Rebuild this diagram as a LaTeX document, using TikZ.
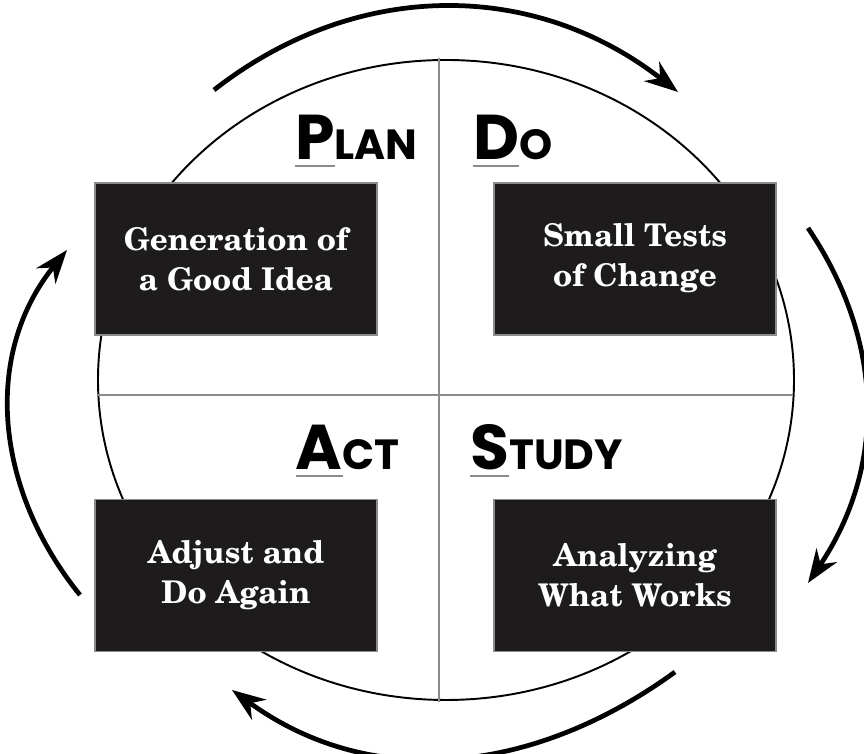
\documentclass[tikz,border=0pt]{standalone}
\usepackage[T1]{fontenc}
\usepackage{fontspec}
\newfontfamily\headfont{Poppins}
\usetikzlibrary{arrows.meta}
\definecolor{boxblack}{RGB}{30,27,28}
\definecolor{rulegray}{RGB}{140,140,140}
\newsavebox\firstbox
\newcommand{\pdsaword}[2]{{\headfont\bfseries\fontsize{36}{36}\selectfont\sbox\firstbox{#1}\rlap{\textcolor{rulegray}{\rule[-4pt]{\wd\firstbox}{1.4pt}}}\usebox\firstbox}{\headfont\bfseries\fontsize{24}{24}\selectfont #2}}
\newcommand{\boxfont}{\fontencoding{T1}\fontfamily{pnc}\fontseries{b}\fontsize{17.8}{22.7}\selectfont}
\begin{document}
\begin{tikzpicture}[
    taskbox/.style={fill=boxblack,draw=rulegray,line width=0.8pt,minimum width=5.64cm,minimum height=3.04cm,
      inner sep=0pt,align=center,text=white,font=\boxfont},
    head/.style={inner sep=0pt},
    divider/.style={rulegray,line width=1.5pt},
    cycle/.style={line width=2.7pt,-{Stealth[length=19pt,width=14pt]}}
  ]
    \useasboundingbox (0,0) rectangle (17.28,15.08);
    \draw[line width=1.1pt] (8.92,7.48) ellipse [x radius=6.96cm, y radius=6.40cm];
    \coordinate (vtop) at (8.78,13.92);
    \coordinate (vbot) at (8.78,1.04);
    \coordinate (hleft) at (1.94,7.18);
    \coordinate (hright) at (15.86,7.18);
    \draw[divider] (vtop) -- (vbot);
    \draw[divider] (hleft) -- (hright);
    \node[taskbox] (plan) at (4.72,9.90) {Generation of\\a Good Idea};
    \node[taskbox] (do) at (12.70,9.90) {Small Tests\\of Change};
    \node[taskbox] (act) at (4.72,3.57) {Adjust and\\Do Again};
    \node[taskbox] (study) at (12.70,3.57) {Analyzing\\What Works};
    \node[head,anchor=base east] (planhead) at (8.36,11.88) {\pdsaword{P}{LAN}};
    \node[head,anchor=base west] (dohead) at (9.46,11.88) {\pdsaword{D}{O}};
    \node[head,anchor=base east] (acthead) at (8.00,5.68) {\pdsaword{A}{CT}};
    \node[head,anchor=base west] (studyhead) at (9.40,5.68) {\pdsaword{S}{TUDY}};
    \coordinate (topa) at (4.28,13.28);
    \coordinate (topb) at (13.56,13.24);
    \coordinate (righta) at (16.16,10.52);
    \coordinate (rightb) at (16.16,3.42);
    \coordinate (bota) at (13.50,1.64);
    \coordinate (botb) at (4.64,1.28);
    \coordinate (lefta) at (1.60,3.18);
    \coordinate (leftb) at (1.34,10.08);
    \draw[cycle] (topa) to[out=38,in=142] (topb);
    \draw[cycle] (righta) to[out=-56,in=56] (rightb);
    \draw[cycle] (bota) to[out=-144,in=-36] (botb);
    \draw[cycle] (lefta) to[out=129,in=-129] (leftb);
\end{tikzpicture}
\end{document}
